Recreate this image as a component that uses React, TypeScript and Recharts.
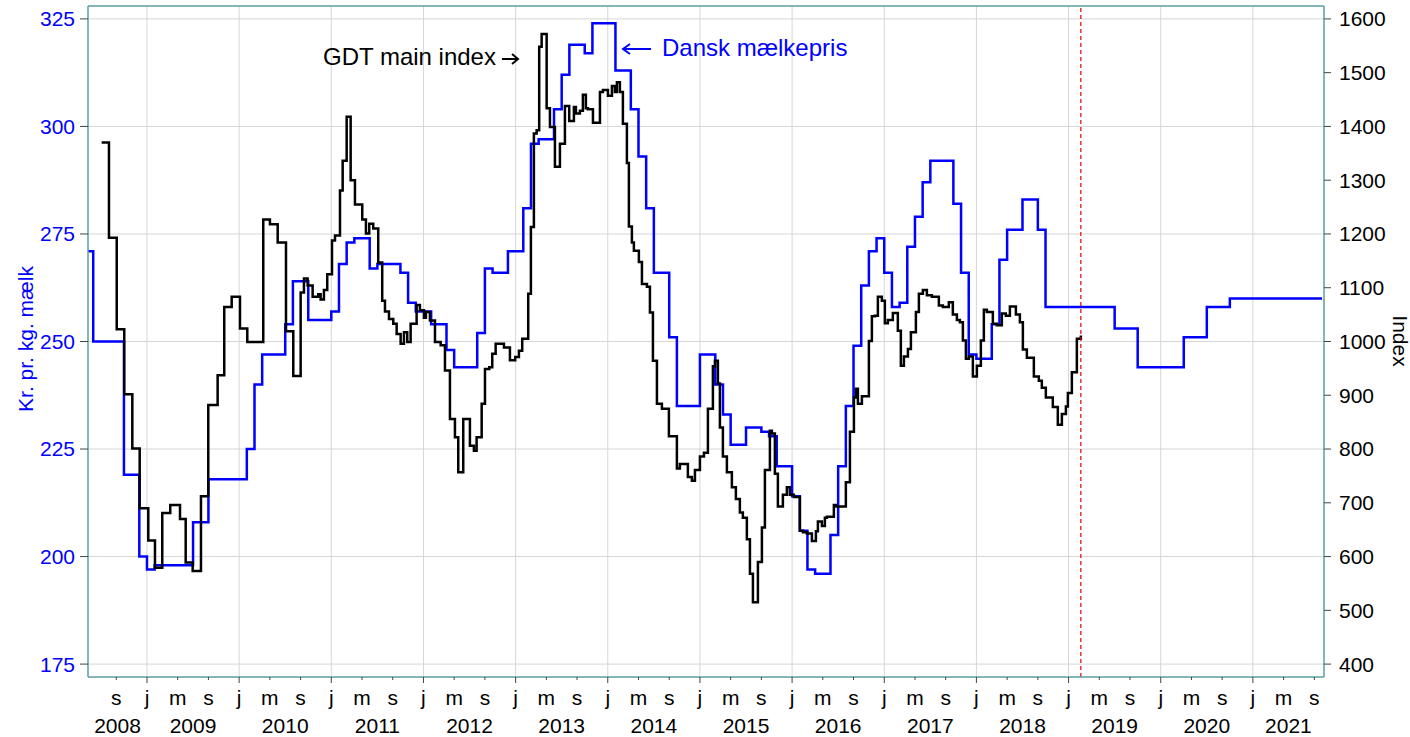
import React from "react";
import { LineChart, Line, XAxis, YAxis, ReferenceLine } from "recharts";

// x values are months counted from January 2008 (0 = Jan 2008, 12 = Jan 2009 ...)
const X_MIN = 4.32;
const X_MAX = 165.26;
const FORECAST_START = 133.6;

const LEFT_DOMAIN = [172, 328];
const RIGHT_DOMAIN = [376, 1624];
const leftTicks = [175, 200, 225, 250, 275, 300, 325];
const rightTicks = [400, 500, 600, 700, 800, 900, 1000, 1100, 1200, 1300, 1400, 1500, 1600];

const years = [2008, 2009, 2010, 2011, 2012, 2013, 2014, 2015, 2016, 2017, 2018, 2019, 2020, 2021];
const monthLetters: Record<number, string> = { 0: "j", 4: "m", 8: "s" };

// Dansk mælkepris, kr. pr. kg. mælk, monthly from May 2008
const MILK_START = 4;
const milkPrice = [
  271, 250, 250, 250, 250, 219, 219, 200, // 2008 (May-Dec)
  197, 198, 198, 198, 198, 198, 208, 208, 218, 218, 218, 218, // 2009
  218, 225, 240, 247, 247, 247, 254, 264, 264, 255, 255, 255, // 2010
  257, 268, 273, 274, 274, 267, 268, 268, 268, 266, 259, 257, // 2011
  257, 254, 254, 248, 244, 244, 244, 252, 267, 266, 266, 271, // 2012
  271, 281, 296, 297, 297, 304, 312, 319, 319, 317, 324, 324, // 2013
  324, 313, 313, 304, 293, 281, 266, 266, 251, 235, 235, 235, // 2014
  247, 247, 240, 233, 226, 226, 230, 230, 229, 228, 221, 221, // 2015
  214, 206, 197, 196, 196, 205, 221, 235, 249, 263, 271, 274, // 2016
  266, 258, 259, 272, 279, 287, 292, 292, 292, 282, 266, 247, // 2017
  246, 246, 254, 269, 276, 276, 283, 283, 276, 258, 258, 258, // 2018
  258, 258, 258, 258, 258, 258, 253, 253, 253, 244, 244, 244, // 2019
  244, 244, 244, 251, 251, 251, 258, 258, 258, 260, 260, 260, // 2020
  260, 260, 260, 260, 260, 260, 260, 260, 260, 260, // 2021 (Jan-Oct)
];

// GDT main index, auction dates (months from Jan 2008) and index level
const gdtMonth = [
  6.1, 7.05, 8.06, 9.04, 10.09, 11.05, 12.17, 13.04, 13.99, 15.03, 16.3, 17.04, 17.95, 19.03, 19.98,
  21.2, 22.06, 23.03, 24.11, 25.06, 27.14, 28.01, 29.02, 30.1, 31.05, 32.01, 32.44, 32.92, 33.57,
  34.3, 34.61, 35.04, 35.47, 36.09, 36.48, 37.13, 37.48, 38.0, 38.52, 39.08, 40.03, 40.51, 40.94,
  41.46, 42.11, 42.63, 42.99, 43.51, 44.07, 44.51, 45.03, 45.46, 45.89, 46.33, 47.11, 47.54, 48.06,
  48.32, 48.84, 49.5, 50.24, 50.8, 51.45, 52.1, 52.53, 53.18, 54.05, 54.57, 54.92, 55.58, 56.01,
  56.57, 56.96, 57.4, 58.48, 59.26, 59.95, 60.43, 60.86, 61.64, 61.99, 62.38, 62.74, 63.07, 63.39,
  64.04, 64.47, 65.12, 65.77, 66.42, 66.98, 67.59, 67.85, 68.37, 68.76, 69.15, 69.41, 70.07, 70.98,
  71.37, 72.02, 72.54, 72.93, 73.19, 73.58, 73.97, 74.49, 74.75, 75.14, 75.4, 76.05, 76.45, 77.1,
  77.49, 77.88, 78.4, 79.05, 79.96, 81.0, 81.39, 82.43, 82.95, 83.35, 84.0, 84.52, 85.04, 85.69,
  85.95, 86.34, 86.6, 86.99, 87.51, 88.16, 88.68, 89.2, 89.59, 90.11, 90.51, 90.9, 91.55, 92.07,
  92.46, 93.11, 93.37, 93.76, 94.15, 94.8, 95.32, 95.71, 96.23, 97.02, 97.41, 97.93, 98.58, 99.1,
  99.36, 99.88, 100.27, 100.53, 101.44, 101.7, 103.0, 103.53, 104.05, 104.31, 104.57, 105.09,
  106.0, 106.39, 106.78, 107.17, 107.69, 108.08, 108.47, 109.12, 109.77, 110.16, 110.56, 111.08,
  111.47, 112.12, 112.51, 113.03, 113.55, 114.2, 115.11, 115.63, 116.41, 116.93, 117.46, 117.85,
  118.24, 118.63, 119.02, 119.54, 120.06, 120.58, 120.97, 121.36, 122.14, 122.66, 123.31, 123.83,
  124.36, 125.14, 125.66, 126.05, 126.57, 127.48, 128.13, 128.52, 129.04, 129.95, 130.6, 131.13,
  131.65, 131.91, 132.43, 133.08, 133.6,
];
const gdtIndex = [
  1370, 1193, 1023, 902, 801, 690, 630, 579, 681, 696, 670, 589, 573, 712, 882,
  937, 1064, 1083, 1024, 999, 1227, 1218, 1184, 1019, 936, 1091, 1117, 1104, 1083,
  1088, 1078, 1096, 1125, 1188, 1197, 1281, 1336, 1418, 1300, 1255, 1227, 1201, 1219,
  1210, 1147, 1076, 1056, 1042, 1033, 1014, 996, 1017, 999, 1033, 1068, 1058, 1044,
  1055, 1039, 999, 993, 946, 856, 822, 757, 856, 806, 797, 822, 884, 949,
  952, 977, 996, 989, 965, 971, 983, 1005, 1089, 1213, 1387, 1393, 1548, 1572,
  1434, 1399, 1325, 1368, 1438, 1410, 1436, 1424, 1429, 1459, 1434, 1432, 1407, 1464,
  1468, 1457, 1475, 1464, 1482, 1464, 1405, 1332, 1214, 1184, 1169, 1148, 1107, 1102,
  1054, 964, 884, 875, 824, 764, 772, 748, 741, 761, 786, 793, 875, 954,
  964, 922, 840, 786, 757, 729, 707, 682, 672, 632, 568, 515, 590, 654,
  761, 834, 829, 754, 693, 715, 729, 715, 711, 648, 645, 643, 629, 647,
  665, 657, 672, 674, 696, 693, 738, 832, 896, 912, 884, 898,
  1001, 1047, 1048, 1083, 1076, 1034, 1040, 1053, 1020, 955, 972, 986,
  1017, 1055, 1089, 1096, 1086, 1083, 1067, 1064, 1073, 1050, 1040, 1036,
  1002, 968, 972, 935, 955, 1002, 1059, 1055, 1033, 1030, 1052, 1048,
  1065, 1050, 1036, 985, 970, 935, 927, 914, 896, 878, 845, 865,
  879, 904, 943, 1005, 1011,
];

const milkData = milkPrice.map((v, i) => ({ t: MILK_START + i, price: v }));
const gdtData = gdtMonth.map((t, i) => ({ t, index: gdtIndex[i] }));

const monthTicks: number[] = [];
for (let t = 8; t <= X_MAX; t += 4) monthTicks.push(t);
const janLines = years.slice(1).map((y) => (y - 2008) * 12);
const yearTicks = years.map((y) => {
  const a = Math.max((y - 2008) * 12, X_MIN);
  const b = Math.min((y - 2007) * 12, X_MAX);
  return (a + b) / 2;
});

const FONT = '"Liberation Sans", Arial, Helvetica, sans-serif';
const BLUE = "#0000ff";
const TEAL = "#5b9ca4";
const GRID = "#d6d6d6";

function MonthTick({ x, y, payload }: any) {
  const m = ((Math.round(payload.value) % 12) + 12) % 12;
  const len = m === 0 ? 6 : 3;
  return (
    <g>
      <line x1={x} x2={x} y1={y} y2={y + len} stroke="#444" strokeWidth={1} />
      <text x={x} y={y + 28} textAnchor="middle" fontSize={21} fontFamily={FONT} fill="#000">
        {monthLetters[m]}
      </text>
    </g>
  );
}

function YearTick({ x, y, payload }: any) {
  const year = 2008 + Math.floor(payload.value / 12);
  return (
    <text x={x} y={y + 24} textAnchor="middle" fontSize={21} fontFamily={FONT} fill="#000">
      {year}
    </text>
  );
}

export default function App() {
  return (
    <div style={{ position: "absolute", left: 0, top: 0, width: 1410, height: 737, background: "#fff", fontFamily: FONT }}>
      <LineChart width={1410} height={737} margin={{ top: 6, right: 0, bottom: 0, left: 0 }}>
        {janLines.map((t) => (
          <ReferenceLine key={"v" + t} xAxisId="m" yAxisId="left" x={t} stroke={GRID} strokeWidth={1} />
        ))}
        {leftTicks.map((v) => (
          <ReferenceLine key={"h" + v} xAxisId="m" yAxisId="left" y={v} stroke={GRID} strokeWidth={1} />
        ))}
        <ReferenceLine xAxisId="m" yAxisId="left" y={LEFT_DOMAIN[1]} stroke={TEAL} strokeWidth={1.5} />
        <XAxis
          xAxisId="m"
          dataKey="t"
          type="number"
          domain={[X_MIN, X_MAX]}
          allowDataOverflow
          ticks={monthTicks}
          interval={0}
          height={32}
          tickSize={0}
          tickMargin={0}
          tickLine={false}
          axisLine={{ stroke: TEAL, strokeWidth: 1.5 }}
          tick={<MonthTick />}
        />
        <XAxis
          xAxisId="y"
          dataKey="t"
          type="number"
          domain={[X_MIN, X_MAX]}
          allowDataOverflow
          ticks={yearTicks}
          interval={0}
          height={28}
          tickSize={0}
          tickMargin={0}
          tickLine={false}
          axisLine={false}
          tick={<YearTick />}
        />
        <YAxis
          yAxisId="left"
          domain={LEFT_DOMAIN}
          allowDataOverflow
          ticks={leftTicks}
          interval={0}
          width={88}
          tickSize={8}
          tickMargin={5}
          tickLine={{ stroke: "#444" }}
          axisLine={{ stroke: TEAL, strokeWidth: 1.5 }}
          tick={{ fill: BLUE, fontSize: 21, fontFamily: FONT }}
        />
        <YAxis
          yAxisId="right"
          orientation="right"
          domain={RIGHT_DOMAIN}
          allowDataOverflow
          ticks={rightTicks}
          interval={0}
          width={86}
          tickSize={7}
          tickMargin={8}
          tickLine={{ stroke: "#444" }}
          axisLine={{ stroke: TEAL, strokeWidth: 1.5 }}
          tick={{ fill: "#000", fontSize: 21, fontFamily: FONT }}
        />
        <Line
          data={milkData}
          dataKey="price"
          xAxisId="m"
          yAxisId="left"
          type="stepAfter"
          stroke={BLUE}
          strokeWidth={2.5}
          dot={false}
          activeDot={false}
          isAnimationActive={false}
        />
        <Line
          data={gdtData}
          dataKey="index"
          xAxisId="m"
          yAxisId="right"
          type="stepAfter"
          stroke="#000"
          strokeWidth={2.5}
          dot={false}
          activeDot={false}
          isAnimationActive={false}
        />
        <ReferenceLine
          xAxisId="m"
          yAxisId="left"
          x={FORECAST_START}
          stroke="#e00000"
          strokeWidth={1.2}
          strokeDasharray="4 3"
        />
      </LineChart>
      <svg width={1410} height={737} style={{ position: "absolute", left: 0, top: 0, pointerEvents: "none" }}>
        <text x={323} y={65} fontSize={24} fontFamily={FONT} fill="#000">
          GDT main index
        </text>
        {/* annotation arrows */}
        <path d="M502 59 H518 M512 54 L518 59 L512 64" fill="none" stroke="#000" strokeWidth={2} />
        <path d="M651 49 H623 M630 44 L623 49 L630 54" fill="none" stroke={BLUE} strokeWidth={2} />
        <text x={662} y={56} fontSize={24} fontFamily={FONT} fill={BLUE}>
          Dansk mælkepris
        </text>
        <text
          x={25}
          y={339}
          fontSize={21}
          fontFamily={FONT}
          fill={BLUE}
          textAnchor="middle"
          dominantBaseline="central"
          transform="rotate(-90 25 339)"
        >
          Kr. pr. kg. mælk
        </text>
        <text
          x={1400}
          y={341}
          fontSize={21}
          fontFamily={FONT}
          fill="#000"
          textAnchor="middle"
          dominantBaseline="central"
          transform="rotate(90 1400 341)"
        >
          Index
        </text>
      </svg>
    </div>
  );
}
